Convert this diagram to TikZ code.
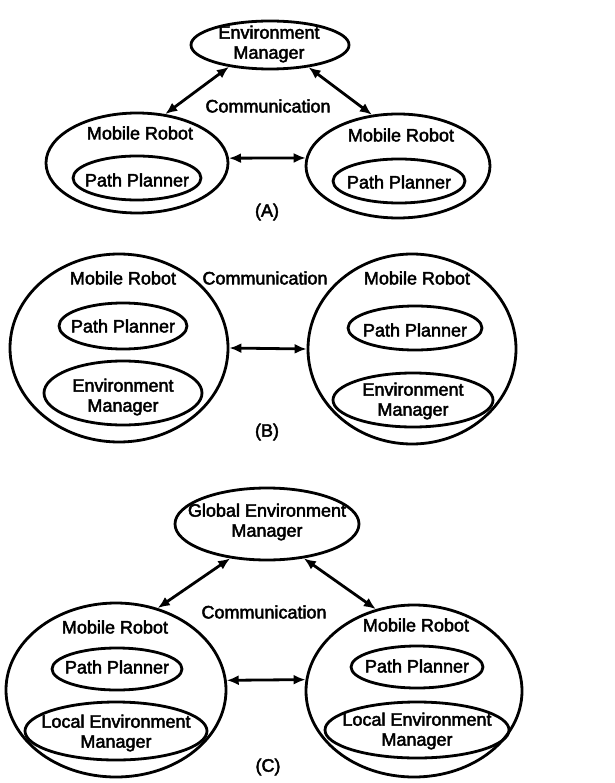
\documentclass[tikz,border=0pt]{standalone}
\usepackage{fontspec}
\setmainfont{Liberation Sans}[FakeBold=2.5]
\usetikzlibrary{shapes.geometric,arrows.meta}

\begin{document}
\begin{tikzpicture}[x=1pt,y=-1pt,
  font=\fontsize{18}{20}\selectfont,
  oval/.style={ellipse,draw,line width=2.8pt,inner sep=0pt},
  txt/.style={align=center,inner sep=0pt},
  link/.style={{Latex[length=12pt,width=10pt]}-{Latex[length=12pt,width=10pt]},line width=2.8pt}]
\useasboundingbox (0,0) rectangle (614,783);
% (A)
\node[oval,minimum width=158,minimum height=48] (emA) at (270,45) {};
\node[txt] (emAt) at (269,44) {Environment\\Manager};
\node[oval,minimum width=182,minimum height=100] (mrA1) at (137,163) {};
\node[txt] (mrA1t) at (140,133) {Mobile Robot};
\node[oval,minimum width=128,minimum height=44] (ppA1) at (137,178) {};
\node[txt] (ppA1t) at (137,180) {Path Planner};
\node[oval,minimum width=184,minimum height=104] (mrA2) at (398,166) {};
\node[txt] (mrA2t) at (401,135) {Mobile Robot};
\node[oval,minimum width=132,minimum height=44] (ppA2) at (399,181) {};
\node[txt] (ppA2t) at (399,182) {Path Planner};
\node[txt] (comA) at (268,106) {Communication};
\node[txt] (capA) at (267,212) {(A)};
\draw[link] (emA.208) -- (mrA1.60);
\draw[link] (emA.330) -- (mrA2.117);
\draw[link] (mrA1.3) -- (mrA2.175);
% (B)
\node[oval,minimum width=218,minimum height=188] (mrB1) at (119,348) {};
\node[txt] (mrB1t) at (123,278) {Mobile Robot};
\node[oval,minimum width=128,minimum height=46] (ppB1) at (123,326) {};
\node[txt] (ppB1t) at (123,326) {Path Planner};
\node[oval,minimum width=158,minimum height=64] (emB1) at (123,393) {};
\node[txt] (emB1t) at (123,397) {Environment\\Manager};
\node[oval,minimum width=208,minimum height=190] (mrB2) at (412,349) {};
\node[txt] (mrB2t) at (417,278) {Mobile Robot};
\node[oval,minimum width=134,minimum height=44] (ppB2) at (415,328) {};
\node[txt] (ppB2t) at (415,330) {Path Planner};
\node[oval,minimum width=160,minimum height=54] (emB2) at (413,400) {};
\node[txt] (emB2t) at (413,401) {Environment\\Manager};
\node[txt] (comB) at (265,278) {Communication};
\node[txt] (capB) at (267,432) {(B)};
\draw[link] (mrB1.east) -- (mrB2.west);
% (C)
\node[oval,minimum width=184,minimum height=72] (gem) at (267,524) {};
\node[txt] (gemt) at (267,522) {Global Environment\\Manager};
\node[oval,minimum width=220,minimum height=174] (mrC1) at (116,690) {};
\node[txt] (mrC1t) at (115,627) {Mobile Robot};
\node[oval,minimum width=130,minimum height=42] (ppC1) at (117,669) {};
\node[txt] (ppC1t) at (117,667) {Path Planner};
\node[oval,minimum width=182,minimum height=58] (lemC1) at (116,731) {};
\node[txt] (lemC1t) at (116,733) {Local Environment\\Manager};
\node[oval,minimum width=216,minimum height=172] (mrC2) at (414,691) {};
\node[txt] (mrC2t) at (416,625) {Mobile Robot};
\node[oval,minimum width=132,minimum height=42] (ppC2) at (417,667) {};
\node[txt] (ppC2t) at (417,666) {Path Planner};
\node[oval,minimum width=184,minimum height=56] (lemC2) at (417,730) {};
\node[txt] (lemC2t) at (417,731) {Local Environment\\Manager};
\node[txt] (comC) at (264,612) {Communication};
\node[txt] (capC) at (268,767) {(C)};
\draw[link] (gem.223) -- (mrC1.63);
\draw[link] (gem.317) -- (mrC2.115);
\draw[link] (mrC1.5) -- (mrC2.174);
\end{tikzpicture}
\end{document}
